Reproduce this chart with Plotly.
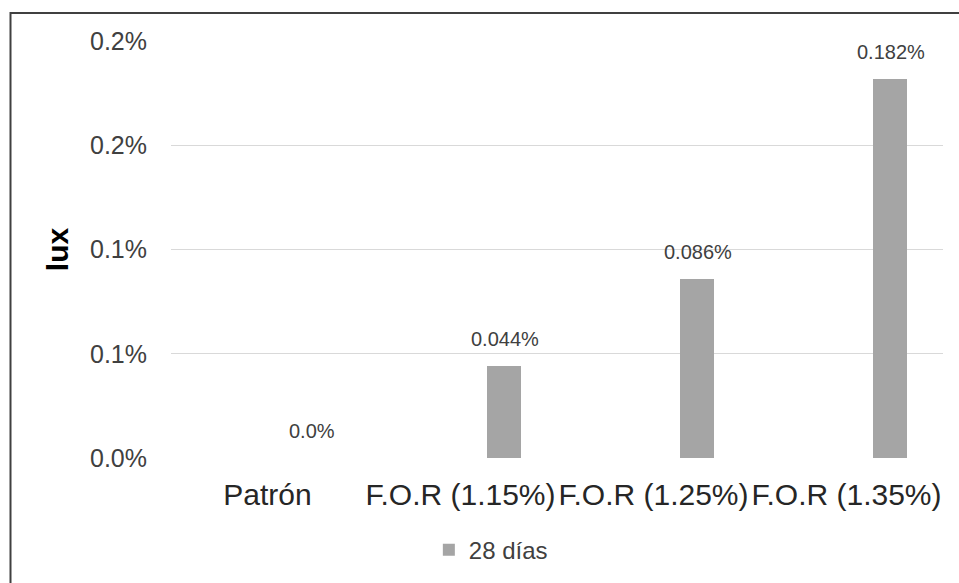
import plotly.graph_objects as go

categories = ["Patrón", "F.O.R (1.15%)", "F.O.R (1.25%)", "F.O.R (1.35%)"]
values_28 = [0.0, 0.044, 0.086, 0.182]
labels_28 = ["0.0%", "0.044%", "0.086%", "0.182%"]
series_name = "28 días"
y_tickvals = [0.0, 0.05, 0.10, 0.15, 0.20]
y_ticktext = ["0.0%", "0.1%", "0.1%", "0.2%", "0.2%"]

BAR_COLOR = "#A5A5A5"
TXT = "#404040"
FONT = "Liberation Sans, Arial, sans-serif"

fig = go.Figure()
fig.add_trace(go.Bar(
    x=categories, y=values_28, name=series_name,
    marker=dict(color=BAR_COLOR, line=dict(width=0)),
    width=0.176, offset=0.137,
    hoverinfo="skip",
))

for c, v, t in zip(categories, values_28, labels_28):
    fig.add_annotation(
        x=c, y=v, text=t, showarrow=False,
        xref="x", yref="y", xanchor="center", yanchor="bottom",
        xshift=44, yshift=14,
        font=dict(family=FONT, size=20, color=TXT),
    )

fig.add_shape(type="rect", xref="paper", yref="paper",
              x0=-0.2079, x1=2.0, y0=-2.0, y1=1.067,
              line=dict(color="#404040", width=2), fillcolor="rgba(0,0,0,0)",
              layer="above")

fig.update_layout(
    width=959, height=583,
    margin=dict(l=171, r=16, t=41, b=124),
    paper_bgcolor="white", plot_bgcolor="white",
    font=dict(family=FONT, color=TXT),
    showlegend=True,
    legend=dict(orientation="h", x=0.334, xanchor="left", y=-0.218, yanchor="middle",
                font=dict(family=FONT, size=24, color=TXT),
                bgcolor="rgba(0,0,0,0)"),
    xaxis=dict(
        type="category", showgrid=False, zeroline=False, showline=False,
        tickangle=0, ticks="outside", ticklen=10, tickcolor="rgba(0,0,0,0)",
        tickfont=dict(family=FONT, size=30, color="#262626"),
        range=[-0.5, 3.5],
    ),
    yaxis=dict(
        range=[0, 0.2], tickvals=y_tickvals, ticktext=y_ticktext,
        showgrid=True, gridcolor="#D9D9D9", gridwidth=1.3,
        zeroline=False, showline=False,
        ticks="outside", ticklen=18, tickcolor="rgba(0,0,0,0)",
        tickfont=dict(family=FONT, size=25, color=TXT),
        title=dict(text="<b>lux</b>", standoff=12,
                   font=dict(family=FONT, size=30, color="#000000")),
    ),
    bargap=0,
)

fig.write_html("out.html", config={"displayModeBar": False},
               post_script="document.body.style.margin='0px';")
